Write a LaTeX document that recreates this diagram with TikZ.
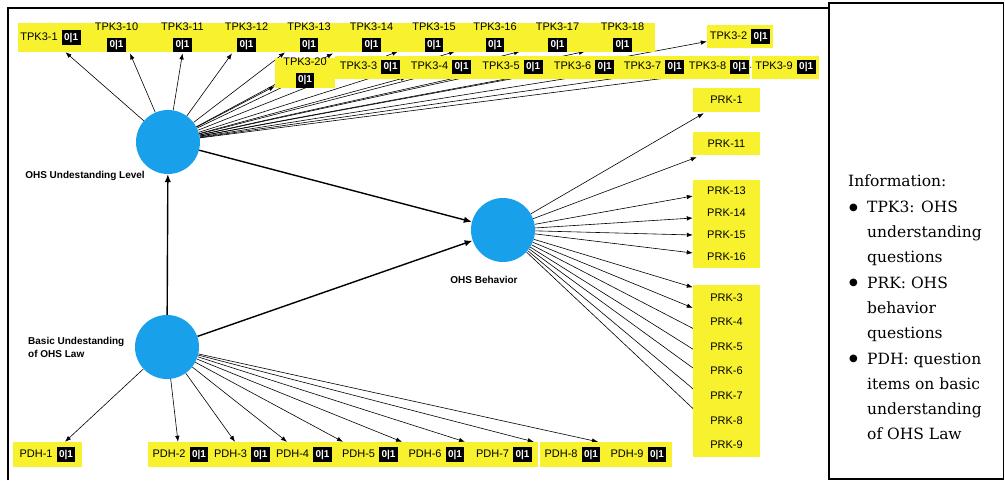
\documentclass[tikz,border=0pt]{standalone}
\usepackage{fontspec}
\setmainfont{Liberation Sans}
\newfontfamily\legfont{DejaVu Serif}
\newfontfamily\symfont{DejaVu Sans}
\usetikzlibrary{arrows.meta,calc}
\pgfdeclarelayer{bg}
\pgfsetlayers{bg,main}
\definecolor{yel}{RGB}{247,242,45}
\definecolor{cblue}{RGB}{25,160,235}
\newcommand\zo{{\setlength\fboxsep{2.5pt}\colorbox{black}{\textcolor{white}{\fontsize{10}{12}\selectfont\bfseries 0|1}}}}
\newcommand\lab[1]{#1\hspace{4pt}\zo}
\newcommand\bul{\makebox[19pt][l]{\hspace{1pt}\raisebox{2.2pt}{\symfont\fontsize{10}{10}\selectfont ●}}}
\newcommand\ind{\makebox[19pt]{}}
\begin{document}
\begin{tikzpicture}[x=1pt,y=-1pt,
  ybox/.style={fill=yel, inner sep=0pt, font=\fontsize{11}{13}\selectfont, text=black},
  ytwo/.style={ybox, align=center},
  circ/.style={circle, fill=cblue, inner sep=0pt, minimum size=64pt},
  clab/.style={font=\fontsize{10}{13}\selectfont\bfseries, inner sep=0pt},
  arr/.style={line width=0.6pt, -{Latex[length=6pt,width=4.5pt]}},
  marr/.style={line width=1.4pt, -{Latex[length=8pt,width=6.5pt]}}]
\useasboundingbox (0,0) rectangle (1005,480);
% frames
\draw[line width=2pt] (8,480) -- (8,8) -- (829,8);
\draw[line width=1.2pt] (829,3) rectangle (1003.5,479);
% circles
\node[circ] (ou) at (168,142) {};
\node[circ] (bas) at (167,347) {};
\node[circ] (beh) at (503,230) {};
\node[clab] (oul) at (85,176) {OHS Undestanding Level};
\node[clab, align=left, anchor=west] (basl) at (28,347) {Basic Undestanding\\of OHS Law};
\node[clab] (behl) at (484,280) {OHS Behavior};
% top row
\node[ybox, minimum width=65pt, minimum height=29pt] (t1) at (50.5,37.5) {\lab{TPK3-1}};
\node[ytwo, minimum width=67pt, minimum height=29pt] (t10) at (116.5,37.5) {TPK3-10\\[4pt]\zo};
\node[ytwo, minimum width=65pt, minimum height=29pt] (t11) at (182.5,37.5) {TPK3-11\\[4pt]\zo};
\node[ytwo, minimum width=63pt, minimum height=29pt] (t12) at (246.5,37.5) {TPK3-12\\[4pt]\zo};
\node[ytwo, minimum width=62pt, minimum height=29pt] (t13) at (309,37.5) {TPK3-13\\[4pt]\zo};
\node[ytwo, minimum width=63pt, minimum height=29pt] (t14) at (371.5,37.5) {TPK3-14\\[4pt]\zo};
\node[ytwo, minimum width=62pt, minimum height=29pt] (t15) at (434,37.5) {TPK3-15\\[4pt]\zo};
\node[ytwo, minimum width=60pt, minimum height=29pt] (t16) at (495,37.5) {TPK3-16\\[4pt]\zo};
\node[ytwo, minimum width=65pt, minimum height=29pt] (t17) at (557.5,37.5) {TPK3-17\\[4pt]\zo};
\node[ytwo, minimum width=65pt, minimum height=29pt] (t18) at (622.5,37.5) {TPK3-18\\[4pt]\zo};
\node[ybox, minimum width=66pt, minimum height=23pt] (t2) at (740,36.5) {\lab{TPK3-2}};
% second row
\node[ytwo, minimum width=60pt, minimum height=30pt] (t20) at (305,73) {TPK3-20\\[4pt]\zo};
\node[ybox, minimum width=70pt, minimum height=23pt] (t3) at (370,67) {\lab{TPK3-3}};
\node[ybox, minimum width=72pt, minimum height=23pt] (t4) at (441,67) {\lab{TPK3-4}};
\node[ybox, minimum width=71pt, minimum height=23pt] (t5) at (512.5,67) {\lab{TPK3-5}};
\node[ybox, minimum width=72pt, minimum height=23pt] (t6) at (584,67) {\lab{TPK3-6}};
\node[ybox, minimum width=68pt, minimum height=23pt] (t7) at (654,67) {\lab{TPK3-7}};
\node[ybox, minimum width=62pt, minimum height=23pt] (t8) at (719,67) {\lab{TPK3-8}};
\node[ybox, minimum width=67pt, minimum height=23pt] (t9) at (785.5,67) {\lab{TPK3-9}};
% PRK column
\node[ybox, minimum width=67pt, minimum height=24pt] (p1) at (726.5,100) {PRK-1};
\node[ybox, minimum width=67pt, minimum height=23pt] (p11) at (726.5,143.5) {PRK-11};
\node[ybox, minimum width=67pt, minimum height=22pt] (p13) at (726.5,191) {PRK-13};
\node[ybox, minimum width=67pt, minimum height=22pt] (p14) at (726.5,213) {PRK-14};
\node[ybox, minimum width=67pt, minimum height=22pt] (p15) at (726.5,235) {PRK-15};
\node[ybox, minimum width=67pt, minimum height=22pt] (p16) at (726.5,257) {PRK-16};
\node[ybox, minimum width=67pt, minimum height=24.7pt] (p3) at (726.5,297.3) {PRK-3};
\node[ybox, minimum width=67pt, minimum height=24.7pt] (p4) at (726.5,321.9) {PRK-4};
\node[ybox, minimum width=67pt, minimum height=24.7pt] (p5) at (726.5,346.5) {PRK-5};
\node[ybox, minimum width=67pt, minimum height=24.7pt] (p6) at (726.5,371.1) {PRK-6};
\node[ybox, minimum width=67pt, minimum height=24.7pt] (p7) at (726.5,395.7) {PRK-7};
\node[ybox, minimum width=67pt, minimum height=24.7pt] (p8) at (726.5,420.3) {PRK-8};
\node[ybox, minimum width=67pt, minimum height=24.7pt] (p9) at (726.5,444.9) {PRK-9};
% PDH row
\node[ybox, minimum width=69pt, minimum height=25pt] (d1) at (47.5,454.5) {\lab{PDH-1}};
\node[ybox, minimum width=65pt, minimum height=25pt] (d2) at (180.5,454.5) {\lab{PDH-2}};
\node[ybox, minimum width=58pt, minimum height=25pt] (d3) at (242,454.5) {\lab{PDH-3}};
\node[ybox, minimum width=66pt, minimum height=25pt] (d4) at (304,454.5) {\lab{PDH-4}};
\node[ybox, minimum width=66pt, minimum height=25pt] (d5) at (370,454.5) {\lab{PDH-5}};
\node[ybox, minimum width=67pt, minimum height=25pt] (d6) at (436.5,454.5) {\lab{PDH-6}};
\node[ybox, minimum width=68pt, minimum height=25pt] (d7) at (504,454.5) {\lab{PDH-7}};
\node[ybox, minimum width=65pt, minimum height=25pt] (d8) at (572.5,454.5) {\lab{PDH-8}};
\node[ybox, minimum width=67pt, minimum height=25pt] (d9) at (638.5,454.5) {\lab{PDH-9}};
% legend
\node[anchor=north west, inner sep=0pt, align=left, font=\legfont\fontsize{15.5}{25.3}\selectfont] (leg) at (848,175)
 {Information:\\
  \bul TPK3: OHS\\
  \ind understanding\\
  \ind questions\\
  \bul PRK: OHS\\
  \ind behavior\\
  \ind questions\\
  \bul PDH: question\\
  \ind items on basic\\
  \ind understanding\\
  \ind of OHS Law};
% connectors
\begin{pgfonlayer}{bg}
\draw[marr] (bas) -- (ou);
\draw[marr] (ou) -- (beh);
\draw[marr] (bas) -- (beh);
% TPK3
\draw[arr] (ou) -- ($(t1.south)+(15,0)$);
\draw[arr] (ou) -- ($(t10.south)+(13.5,1)$);
\draw[arr] (ou) -- ($(t11.south)+(0,1)$);
\draw[arr] (ou) -- ($(t12.south)+(-14.5,1)$);
\draw[arr] (ou) -- ($(t13.south)+(-24,0)$);
\draw[arr] (ou) -- ($(t14.south)+(-38.5,1)$);
\draw[arr] (ou) -- ($(t15.south)+(-36,-1)$);
\draw[arr] (ou) -- ($(t16.south)+(-40,-1)$);
\draw[arr] (ou) -- ($(t17.south)+(-37.5,-1)$);
\draw[arr] (ou) -- ($(t18.south)+(-37.5,-1)$);
\draw[arr] (ou) -- ($(t20.south west)+(0,-2)$);
\draw[arr] (ou) -- ($(t3.west)+(0,-5)$);
\draw[arr] (ou) -- ($(t4.south west)+(2,-1.5)$);
\draw[arr] (ou) -- ($(t5.south west)+(0,-5.5)$);
\draw[arr] (ou) -- ($(t6.south west)+(0,-6.5)$);
\draw[arr] (ou) -- ($(t7.west)+(0,3)$);
\draw[arr] (ou) -- ($(t8.west)+(0,1)$);
\draw[arr] (ou) -- ($(t9.west)+(0,0)$);
\draw[arr] (ou) -- ($(t2.west)+(0,5)$);
% PRK
\draw[arr] (beh) -- ($(p1.south west)+(11,1)$);
\draw[arr] (beh) -- ($(p11.south west)+(4,2)$);
\draw[arr] (beh) -- ($(p13.west)+(0,5)$);
\draw[arr] (beh) -- ($(p14.west)+(0,5)$);
\draw[arr] (beh) -- ($(p15.west)+(0,0)$);
\draw[arr] (beh) -- ($(p16.west)+(0,-4)$);
\draw[arr] (beh) -- ($(p3.west)+(0,-10)$);
\draw[arr] (beh) -- ($(p4.west)+(0,-14)$);
\draw[arr] (beh) -- ($(p5.west)+(8,-14)$);
\draw[arr] (beh) -- ($(p6.west)+(8,-17)$);
\draw[arr] (beh) -- ($(p7.west)+(8,-22)$);
\draw[arr] (beh) -- ($(p8.west)+(8,-25)$);
\draw[arr] (beh) -- ($(p9.west)+(8,-29)$);
% PDH
\draw[arr] (bas) -- ($(d1.north)+(17.5,0)$);
\draw[arr] (bas) -- ($(d2.north)+(-2.5,0)$);
\draw[arr] (bas) -- ($(d3.north)+(-7,0)$);
\draw[arr] (bas) -- ($(d4.north)+(-17,0)$);
\draw[arr] (bas) -- ($(d5.north)+(-27,0)$);
\draw[arr] (bas) -- ($(d6.north)+(-34.5,0)$);
\draw[arr] (bas) -- ($(d7.north)+(-39,0)$);
\draw[arr] (bas) -- ($(d8.north west)+(-6,0)$);
\draw[arr] (bas) -- ($(d9.north)+(-40.5,0)$);
\end{pgfonlayer}
\end{tikzpicture}
\end{document}
